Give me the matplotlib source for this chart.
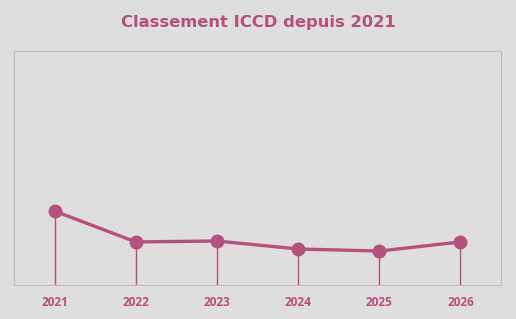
import matplotlib
matplotlib.use("Agg")
import matplotlib.pyplot as plt

years = ["2021", "2022", "2023", "2024", "2025", "2026"]
values = [31.6, 18.4, 18.8, 15.4, 14.5, 18.4]

color = "#B4527D"
bg = "#DEDEDE"

fig = plt.figure(figsize=(5.16, 3.19), dpi=100, facecolor=bg)
ax = fig.add_axes([14/516, 1-285/319, 487/516, 234/319])
ax.set_facecolor(bg)
x = list(range(len(years)))
ax.vlines(x, 0, values, color=color, linewidth=1.0, zorder=2)
ax.plot(x, values, color=color, linewidth=2.4, marker="o", markersize=9,
        solid_capstyle="round", zorder=3)
ax.set_xlim(-0.5, len(years) - 0.5)
ax.set_ylim(0, 100)
ax.set_yticks([])
ax.set_xticks(x)
ax.set_xticklabels(years, family="Open Sans", fontweight="bold", fontsize=8.5, color=color)
ax.tick_params(axis="x", length=0, pad=8)
for s in ax.spines.values():
    s.set_color("#BFBFBF")
    s.set_linewidth(0.8)

fig.text(0.5, 1-22/319, "Classement ICCD depuis 2021", ha="center", va="center",
         family="DejaVu Sans", fontweight="bold", fontsize=11.8, color=color)

fig.savefig("out.png", dpi=100, facecolor=bg)
